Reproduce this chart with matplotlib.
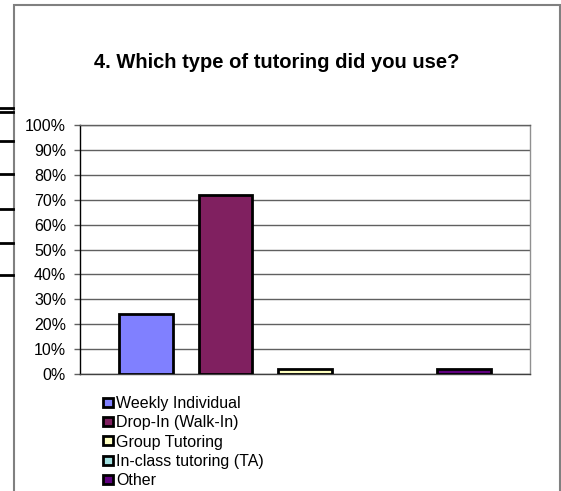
import matplotlib
matplotlib.use("Agg")
import matplotlib.pyplot as plt
from matplotlib.patches import Rectangle
from matplotlib.lines import Line2D
from matplotlib.ticker import PercentFormatter

plt.rcParams['font.family'] = ['Liberation Sans', 'DejaVu Sans']

# data
title = '4. Which type of tutoring did you use?'
categories = ['Weekly Individual', 'Drop-In (Walk-In)', 'Group Tutoring',
              'In-class tutoring (TA)', 'Other']
values = [24, 72, 2, 0, 2]
colors = ['#8080FF', '#802060', '#FFFFC0', '#A0E0E0', '#600080']
yticks = [0, 10, 20, 30, 40, 50, 60, 70, 80, 90, 100]

W, H = 561, 491
fig = plt.figure(figsize=(W / 100, H / 100), dpi=100)

# chart frame
fig.add_artist(Rectangle((14 / W, -0.05), (560 - 14) / W, 1.05 - 5 / H,
                         transform=fig.transFigure, fill=False,
                         edgecolor='#808080', lw=1.5))

# stray black marks on the left edge
for y in [108, 112, 141, 174, 209, 243, 275]:
    fig.add_artist(Line2D([0, 13 / W], [1 - y / H, 1 - y / H],
                          transform=fig.transFigure, color='black', lw=2))

ax = fig.add_axes([80 / W, 1 - 374 / H, 450 / W, 249 / H])
for i, (cat, val, col) in enumerate(zip(categories, values, colors)):
    # zero-height bars are not drawn with an outline
    ax.bar(i, val, width=0.67, color=col, edgecolor='black',
           lw=2 if val > 0 else 0, label=cat, zorder=3)

ax.set_xlim(-0.83, 4.83)
ax.set_ylim(0, 100)
ax.set_yticks(yticks)
ax.yaxis.set_major_formatter(PercentFormatter(decimals=0))
ax.set_xticks([])
ax.grid(axis='y', color='#606060', lw=1, zorder=0)
ax.tick_params(axis='y', labelsize=11.5, length=4, width=1, color='#606060',
               pad=6)
ax.spines['left'].set_color('black')
ax.spines['bottom'].set_color('#404040')
ax.spines['right'].set_color('#909090')
ax.spines['top'].set_color('#606060')
for s in ax.spines.values():
    s.set_linewidth(1)

fig.text(277 / W, 1 - 63 / H, title, ha='center', va='center',
         fontsize=14.5, fontweight='bold')

# legend handles with outline even for the zero bar
handles = [Rectangle((0, 0), 1, 1, facecolor=c, edgecolor='black', lw=2)
           for c in colors]
fig.legend(handles=handles, labels=categories, loc='upper left',
           bbox_to_anchor=(95 / W, 1 - 388 / H), frameon=False,
           fontsize=11.5, handlelength=0.6, handleheight=0.5,
           handletextpad=0.2, labelspacing=0.27, borderpad=0)

fig.savefig('out.png', dpi=100)
